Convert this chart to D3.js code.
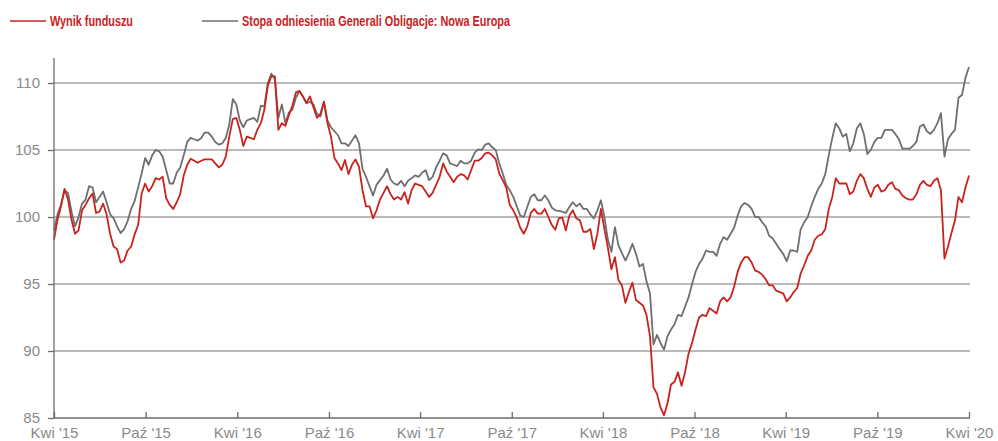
<!DOCTYPE html>
<html>
<head>
<meta charset="utf-8">
<script src="https://cdn.jsdelivr.net/npm/d3@7"></script>
<style>
   body { margin: 0; background: #fff; }
   .axis text { font-family: "Liberation Sans", Arial, sans-serif; font-size: 15px; fill: #8a8a8a; }
   .legend text { font-family: "Liberation Sans", Arial, sans-serif; font-weight: bold; font-size: 14px; fill: #c8231f; }
</style>
</head>
<body>
<div id="chart"></div>
<script>

// weekly observations, first one on 1 Apr 2015
let startDate = new Date(2015, 3, 1)

let fundValues = [
   98.3, 99.8, 100.8, 102.1, 101.3, 99.8, 98.75, 99.0, 100.5, 100.9,
   101.4, 101.75, 100.3, 100.4, 101.0, 100.2, 98.75, 97.8, 97.6, 96.6,
   96.75, 97.5, 97.8, 98.7, 99.4, 101.75, 102.5, 101.9, 102.3, 102.9,
   102.8, 103.0, 101.4, 100.9, 100.6, 101.1, 101.7, 103.1, 103.9, 104.35,
   104.2, 104.05, 104.2, 104.3, 104.3, 104.3, 104.0, 103.7, 103.9, 104.5,
   106.0, 107.3, 107.4, 106.5, 105.3, 106.0, 105.9, 105.8, 106.5, 107.0,
   108.0, 109.8, 110.5, 110.5, 106.5, 107.0, 106.8, 107.6, 108.3, 109.3,
   109.4, 109.0, 108.5, 109.0, 108.2, 107.4, 107.7, 108.6, 107.0, 106.0,
   104.4, 104.0, 103.5, 104.25, 103.2, 103.9, 104.3, 103.75, 102.0, 100.8,
   100.8, 99.9, 100.5, 101.3, 101.8, 102.3, 101.7, 101.3, 101.5, 101.3,
   101.85, 101.0, 102.0, 102.5, 102.4, 102.3, 101.9, 101.5, 101.8, 102.4,
   103.0, 104.0, 103.4, 103.0, 102.6, 103.0, 103.2, 103.1, 102.8, 103.5,
   104.2, 104.2, 104.4, 104.75, 104.8, 104.6, 104.3, 103.25, 102.75, 102.2,
   100.9, 100.5, 99.95, 99.2, 98.75, 99.3, 100.3, 100.6, 100.25, 100.25,
   100.6, 100.0, 99.4, 99.05, 99.9, 99.95, 99.0, 100.1, 100.5, 99.9,
   99.75, 98.9, 98.9, 99.1, 97.6, 98.75, 100.6, 99.1, 97.7, 96.1,
   97.0, 95.3, 94.9, 93.6, 94.4, 95.1, 93.8, 93.6, 93.4, 92.7,
   91.1, 87.3, 86.8, 85.8, 85.2, 86.1, 87.5, 87.7, 88.4, 87.4,
   88.4, 89.8, 90.6, 91.6, 92.5, 92.7, 92.6, 93.2, 93.0, 92.8,
   93.7, 94.0, 93.7, 94.0, 94.8, 95.9, 96.6, 97.0, 97.0, 96.6,
   96.0, 95.9, 95.7, 95.35, 94.9, 94.9, 94.5, 94.4, 94.3, 93.7,
   94.0, 94.4, 94.7, 95.8, 96.4, 97.1, 97.5, 98.3, 98.6, 98.7,
   99.1, 100.6, 101.5, 102.9, 102.5, 102.5, 102.5, 101.7, 101.9, 102.7,
   103.2, 102.9, 102.1, 101.5, 102.2, 102.4, 101.9, 102.0, 102.4, 102.6,
   102.1, 102.0, 101.6, 101.4, 101.3, 101.3, 101.7, 102.4, 102.7, 102.4,
   102.3, 102.7, 102.9, 102.0, 96.9, 97.8, 98.8, 99.75, 101.5, 101.1,
   102.2, 103.1
]

let benchmarkValues = [
   99.0, 100.2, 100.9, 102.0, 101.8, 100.4, 99.3, 100.0, 101.0, 101.3,
   102.3, 102.2, 101.1, 101.5, 101.9, 101.1, 100.2, 99.9, 99.3, 98.8,
   99.1, 99.7, 100.6, 101.2, 102.2, 103.25, 104.4, 103.9, 104.6, 105.0,
   104.9, 104.5, 103.5, 102.5, 102.5, 103.3, 103.7, 104.6, 105.6, 105.9,
   105.8, 105.7, 105.9, 106.3, 106.3, 106.0, 105.6, 105.4, 105.5, 105.9,
   106.9, 108.8, 108.4, 107.2, 106.7, 107.2, 107.3, 107.4, 107.1, 108.3,
   108.25, 110.0, 110.7, 110.3, 107.4, 108.4, 107.0, 107.8, 108.0, 108.9,
   109.4, 109.0, 108.5, 108.6, 108.4, 107.7, 107.5, 108.6, 107.2, 106.7,
   106.4, 106.1, 105.5, 105.5, 105.3, 105.7, 106.1, 105.5, 103.6, 103.0,
   102.3, 101.6, 102.4, 102.75, 103.1, 103.6, 102.8, 102.5, 102.4, 102.7,
   102.3, 102.7, 102.9, 103.1, 103.0, 103.3, 103.5, 102.75, 103.0, 103.7,
   104.2, 104.75, 104.6, 104.0, 103.9, 103.8, 104.2, 104.0, 104.0, 104.2,
   104.8, 105.05, 105.0, 105.4, 105.5, 105.2, 105.0, 104.0, 103.25, 102.4,
   102.0, 101.5, 100.8, 100.1, 100.0, 100.75, 101.5, 101.7, 101.25, 101.25,
   101.6, 101.25, 100.7, 100.5, 100.45, 100.4, 100.3, 100.75, 101.1, 100.8,
   101.0, 100.6, 100.6, 100.2, 99.9, 100.5, 101.25, 100.0, 98.3, 97.4,
   99.25, 97.9, 97.3, 96.75, 97.3, 98.0, 97.25, 96.3, 96.5, 95.2,
   94.3, 90.5, 91.2, 90.6, 90.1, 91.1, 91.6, 92.0, 92.7, 92.6,
   93.3, 94.0, 95.0, 95.9, 96.5, 96.9, 97.5, 97.4, 97.4, 97.1,
   98.0, 98.5, 98.3, 98.75, 99.2, 100.1, 100.8, 101.05, 100.9, 100.6,
   100.0, 100.0, 99.6, 99.3, 98.6, 98.4, 98.0, 97.6, 97.25, 96.7,
   97.5, 97.5, 97.4, 99.1, 99.6, 100.0, 100.8, 101.5, 102.1, 102.5,
   103.2, 104.6, 105.9, 107.0, 106.6, 106.0, 106.2, 104.9, 105.5, 106.6,
   107.0, 106.2, 104.7, 105.0, 105.6, 105.9, 105.9, 106.5, 106.5, 106.5,
   106.2, 105.8, 105.1, 105.1, 105.1, 105.3, 105.6, 106.75, 106.9, 106.4,
   106.2, 106.5, 107.0, 107.75, 104.5, 105.8, 106.2, 106.5, 108.9, 109.1,
   110.4, 111.2
]

let yTicks = [85, 90, 95, 100, 105, 110]
let xTickDates = ["2015-04-01", "2015-10-01", "2016-04-01", "2016-10-01", "2017-04-01", "2017-10-01",
   "2018-04-01", "2018-10-01", "2019-04-01", "2019-10-01", "2020-04-01"]
let xTickLabels = ["Kwi '15", "Paź '15", "Kwi '16", "Paź '16", "Kwi '17", "Paź '17",
   "Kwi '18", "Paź '18", "Kwi '19", "Paź '19", "Kwi '20"]
let seriesNames = ["Wynik funduszu", "Stopa odniesienia Generali Obligacje: Nowa Europa"]
let seriesColors = ["#c8231f", "#6e6f71"]

let width = 998, height = 441
let margin = { top: 58, left: 54, bottom: 23, right: 28 }

let dates = fundValues.map(function (d, i) { return d3.timeDay.offset(startDate, 7 * i) })
let parseDate = d3.timeParse("%Y-%m-%d")

let x = d3.scaleTime()
   .domain([new Date(2015, 3, 1), new Date(2020, 3, 1)])
   .range([margin.left, 969])

let y = d3.scaleLinear()
   .domain([85, 110])
   .range([418, 83])

let svg = d3.select("#chart").append("svg")
   .attr("width", width)
   .attr("height", height)

// horizontal grid
svg.append("g").selectAll("line.grid").data(yTicks.filter(function (d) { return d > 85 }))
   .join("line")
   .attr("class", "grid")
   .attr("x1", margin.left)
   .attr("x2", 970)
   .attr("y1", function (d) { return y(d) })
   .attr("y2", function (d) { return y(d) })
   .attr("stroke", "#a3a3a3")
   .attr("stroke-width", 1.3)

let line = d3.line()
   .x(function (d) { return x(d[0]) })
   .y(function (d) { return y(d[1]) })

let fund = dates.map(function (d, i) { return [d, fundValues[i]] })
let bench = dates.map(function (d, i) { return [d, benchmarkValues[i]] })

svg.append("path")
   .datum(bench)
   .attr("fill", "none")
   .attr("stroke", seriesColors[1])
   .attr("stroke-width", 1.8)
   .attr("stroke-linejoin", "round")
   .attr("d", line)

svg.append("path")
   .datum(fund)
   .attr("fill", "none")
   .attr("stroke", seriesColors[0])
   .attr("stroke-width", 1.8)
   .attr("stroke-linejoin", "round")
   .attr("d", line)

// y axis
let yAxis = svg.append("g")
   .attr("class", "y axis")
   .attr("transform", "translate(" + margin.left + ",0)")
   .call(d3.axisLeft(y).tickValues(yTicks).tickSize(6).tickPadding(8).tickSizeOuter(0))

yAxis.select(".domain").attr("d", "M0," + margin.top + "V418")
yAxis.selectAll("path, line").attr("stroke", "#6b6b6b").attr("stroke-width", 1.3)

// x axis, ticks point up into the plot
let xAxis = svg.append("g")
   .attr("class", "x axis")
   .attr("transform", "translate(0,418)")
   .call(d3.axisBottom(x)
      .tickValues(xTickDates.map(parseDate))
      .tickFormat(function (d, i) { return xTickLabels[i] })
      .tickSizeInner(-6)
      .tickSizeOuter(0))

xAxis.select(".domain").attr("d", "M" + margin.left + ",0H970")
xAxis.selectAll("path, line").attr("stroke", "#6b6b6b").attr("stroke-width", 1.3)
xAxis.selectAll("g.tick text").attr("y", 9).attr("dy", "0.71em")

// legend, condensed look by squeezing the text to the original widths
let legend = svg.append("g").attr("class", "legend")
let legendX = [10, 202]
let legendTextWidth = [83, 268]

legend.selectAll("line").data(seriesNames)
   .join("line")
   .attr("x1", function (d, i) { return legendX[i] })
   .attr("x2", function (d, i) { return legendX[i] + 36 })
   .attr("y1", 21)
   .attr("y2", 21)
   .attr("stroke", function (d, i) { return seriesColors[i] })
   .attr("stroke-width", 1.5)

legend.selectAll("text").data(seriesNames)
   .join("text")
   .attr("x", function (d, i) { return legendX[i] + 40 })
   .attr("y", 26)
   .attr("textLength", function (d, i) { return legendTextWidth[i] })
   .attr("lengthAdjust", "spacingAndGlyphs")
   .text(function (d) { return d })

</script>
</body>
</html>
